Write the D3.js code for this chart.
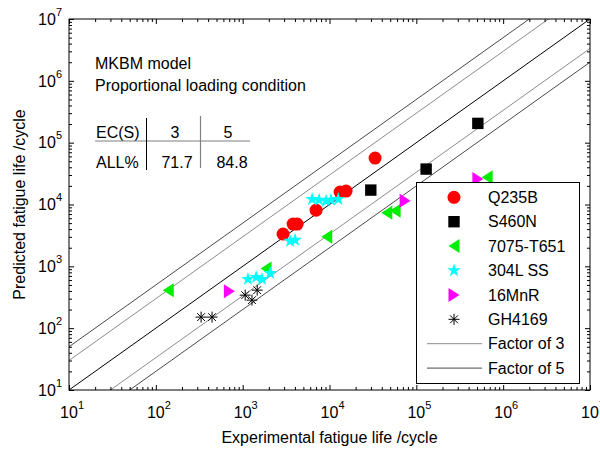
<!DOCTYPE html>
<html><head><meta charset="utf-8">
<script src="https://cdn.jsdelivr.net/npm/d3@7"></script>
<style>body{margin:0;background:#fff}svg{display:block}</style>
</head><body>
<svg id="c" width="600" height="450"></svg>
<script>
// ---------- data ----------
const seriesNames = ["Q235B","S460N","7075-T651","304L SS","16MnR","GH4169"];
const q235bExp  = [2920,3810,4240,7010,13240,15520,33500];
const q235bPred = [3320,4820,4820,8110,15900,16500,56400];
const s460nExp  = [29900,129700,511000];
const s460nPred = [17100,37400,205000];
const t651Exp   = [139,1860,9300,45700,57000,655000];
const t651Pred  = [412,925,3010,7340,7900,27700];
const ss304Exp  = [1150,1430,1670,2070,3520,4020,6310,7590,9140,10400,12600];
const ss304Pred = [621,668,621,776,2560,2660,12200,11800,11400,11800,12200];
const mnrExp    = [703,74300,511000];
const mnrPred   = [397,11500,25800];
const ghExp     = [332,444,1070,1280,1470];
const ghPred    = [151,151,342,284,412];
const lineFactors = [1,3,1/3,5,1/5];
const lineNames = ["Factor of 3","Factor of 5"];
const tickExponents = [1,2,3,4,5,6,7];
const noteLines = ["MKBM model","Proportional loading condition"];
const tableHeader = ["EC(S)","3","5"];
const tableRow = ["ALL%","71.7","84.8"];
const xTitle = "Experimental fatigue life /cycle";
const yTitle = "Predicted fatigue life /cycle";

// ---------- setup ----------
const FONT = "'Liberation Sans', Arial, sans-serif";
const svg = d3.select("#c").style("font-family", FONT);
const L = 69, R = 590, T = 19, B = 390;
const x = d3.scaleLog().domain([10, 1e7]).range([L, R]);
const y = d3.scaleLog().domain([10, 1e7]).range([B, T]);

const majors = tickExponents.map(e => Math.pow(10, e));
const minors = [];
tickExponents.slice(0, -1).forEach(e => { for (let k = 2; k <= 9; k++) minors.push(k * Math.pow(10, e)); });

svg.append("rect").attr("width", 600).attr("height", 450).attr("fill", "#fff");

svg.append("clipPath").attr("id", "clip").append("rect")
  .attr("x", L).attr("y", T).attr("width", R - L).attr("height", B - T);

// ---------- reference lines ----------
const lineColor = f => f === 1 ? "#000" : (Math.abs(Math.log(f)) < 1.2 ? "#8c8c8c" : "#4a4a4a");
const gLines = svg.append("g").attr("clip-path", "url(#clip)");
lineFactors.forEach(f => {
  gLines.append("line")
    .attr("x1", x(10)).attr("y1", y(10 * f))
    .attr("x2", x(1e7)).attr("y2", y(1e7 * f))
    .attr("stroke", lineColor(f)).attr("stroke-width", 1);
});

// ---------- markers ----------
const triLeft = "M-5.5,0L5.5,-7L5.5,7Z";
const triRight = "M5.5,0L-5.5,-7L-5.5,7Z";
const star = d3.symbol().type(d3.symbolStar).size(58)();
const square = d3.symbol().type(d3.symbolSquare).size(130)();
function asterisk(r) {
  let p = "";
  for (let i = 0; i < 4; i++) {
    const a = i * Math.PI / 4;
    const dx = r * Math.cos(a), dy = r * Math.sin(a);
    p += `M${-dx},${-dy}L${dx},${dy}`;
  }
  return p;
}
const markerDefs = [
  {name: seriesNames[0], xs: q235bExp, ys: q235bPred, kind: "circle", fill: "#ff0000"},
  {name: seriesNames[1], xs: s460nExp, ys: s460nPred, kind: "path", d: square, fill: "#000"},
  {name: seriesNames[2], xs: t651Exp, ys: t651Pred, kind: "path", d: triLeft, fill: "#00ee00"},
  {name: seriesNames[3], xs: ss304Exp, ys: ss304Pred, kind: "path", d: star, fill: "#00ffff"},
  {name: seriesNames[4], xs: mnrExp, ys: mnrPred, kind: "path", d: triRight, fill: "#ff00ff"},
  {name: seriesNames[5], xs: ghExp, ys: ghPred, kind: "path", d: asterisk(5.5), fill: "none", stroke: "#000"}
];
function drawMarker(g, m, cx, cy) {
  if (m.kind === "circle") {
    g.append("circle").attr("cx", cx).attr("cy", cy).attr("r", 6.5).attr("fill", m.fill);
  } else {
    g.append("path").attr("d", m.d).attr("transform", `translate(${cx},${cy})`)
      .attr("fill", m.fill).attr("stroke", m.stroke || "none").attr("stroke-width", 1);
  }
}
const gPts = svg.append("g");
markerDefs.forEach(m => {
  m.xs.forEach((v, i) => drawMarker(gPts, m, x(v), y(m.ys[i])));
});

// ---------- frame & ticks ----------
svg.append("rect").attr("x", L).attr("y", T).attr("width", R - L).attr("height", B - T)
  .attr("fill", "none").attr("stroke", "#000").attr("stroke-width", 1);
function addAxis(gen, tx, ty, vals, size) {
  const g = svg.append("g").attr("transform", `translate(${tx},${ty})`)
    .call(gen.tickValues(vals).tickSizeInner(-size).tickSizeOuter(0).tickFormat(""));
  g.select(".domain").remove();
  g.selectAll("line").attr("stroke", "#000");
}
[[() => d3.axisBottom(x), 0, B], [() => d3.axisTop(x), 0, T], [() => d3.axisLeft(y), L, 0], [() => d3.axisRight(y), R, 0]]
  .forEach(([mk, tx, ty]) => {
    addAxis(mk(), tx, ty, majors, 5);
    addAxis(mk(), tx, ty, minors, 3);
  });

// tick labels
majors.forEach((v, i) => {
  const e = tickExponents[i];
  const tx = svg.append("text").attr("x", x(v) - 8.9).attr("y", B + 28)
    .attr("font-size", 16).attr("fill", "#000");
  tx.append("tspan").text("10");
  tx.append("tspan").attr("dy", -9).attr("font-size", 11).text(e);
  const ty = svg.append("text").attr("x", 62).attr("y", y(v) + 5.7)
    .attr("font-size", 16).attr("text-anchor", "end").attr("fill", "#000");
  ty.append("tspan").text("10");
  ty.append("tspan").attr("dy", -9).attr("font-size", 11).text(e);
});

// axis titles
svg.append("text").attr("x", (L + R) / 2).attr("y", 443).attr("text-anchor", "middle")
  .attr("font-size", 16).text(xTitle);
svg.append("text").attr("transform", `translate(25,${(T + B) / 2}) rotate(-90)`)
  .attr("text-anchor", "middle").attr("font-size", 16).text(yTitle);

// ---------- annotation ----------
noteLines.forEach((t, i) => {
  svg.append("text").attr("x", 95).attr("y", 69 + i * 22).attr("font-size", 16).text(t);
});
const colX = [96, 175, 228];
const colX2 = [96, 177, 232];
tableHeader.forEach((t, i) => {
  svg.append("text").attr("x", colX[i]).attr("y", 138).attr("font-size", 16)
    .attr("text-anchor", i === 0 ? "start" : "middle").text(t);
});
tableRow.forEach((t, i) => {
  svg.append("text").attr("x", colX2[i]).attr("y", 168).attr("font-size", 16)
    .attr("text-anchor", i === 0 ? "start" : "middle").text(t);
});
svg.append("line").attr("x1", 95).attr("x2", 250).attr("y1", 141).attr("y2", 141)
  .attr("stroke", "#808080").attr("stroke-width", 1.2);
svg.append("line").attr("x1", 146.5).attr("x2", 146.5).attr("y1", 118).attr("y2", 170)
  .attr("stroke", "#000").attr("stroke-width", 1);
svg.append("line").attr("x1", 200.5).attr("x2", 200.5).attr("y1", 116).attr("y2", 168)
  .attr("stroke", "#808080").attr("stroke-width", 1.2);

// ---------- legend ----------
const lg = svg.append("g");
lg.append("rect").attr("x", 416.5).attr("y", 182.5).attr("width", 163).attr("height", 201)
  .attr("fill", "#fff").attr("stroke", "#000").attr("stroke-width", 1);
const rowH = 24.4, row0 = 197.3;
markerDefs.forEach((m, i) => {
  const cy = row0 + i * rowH;
  drawMarker(lg, m, 454, cy);
  lg.append("text").attr("x", 488).attr("y", cy + 5.7).attr("font-size", 16).text(m.name);
});
lineNames.forEach((n, j) => {
  const cy = row0 + (markerDefs.length + j) * rowH;
  lg.append("line").attr("x1", 427).attr("x2", 482).attr("y1", cy).attr("y2", cy)
    .attr("stroke", lineColor(lineFactors[1 + 2 * j])).attr("stroke-width", 1);
  lg.append("text").attr("x", 488).attr("y", cy + 5.7).attr("font-size", 16).text(n);
});
</script>
</body></html>
